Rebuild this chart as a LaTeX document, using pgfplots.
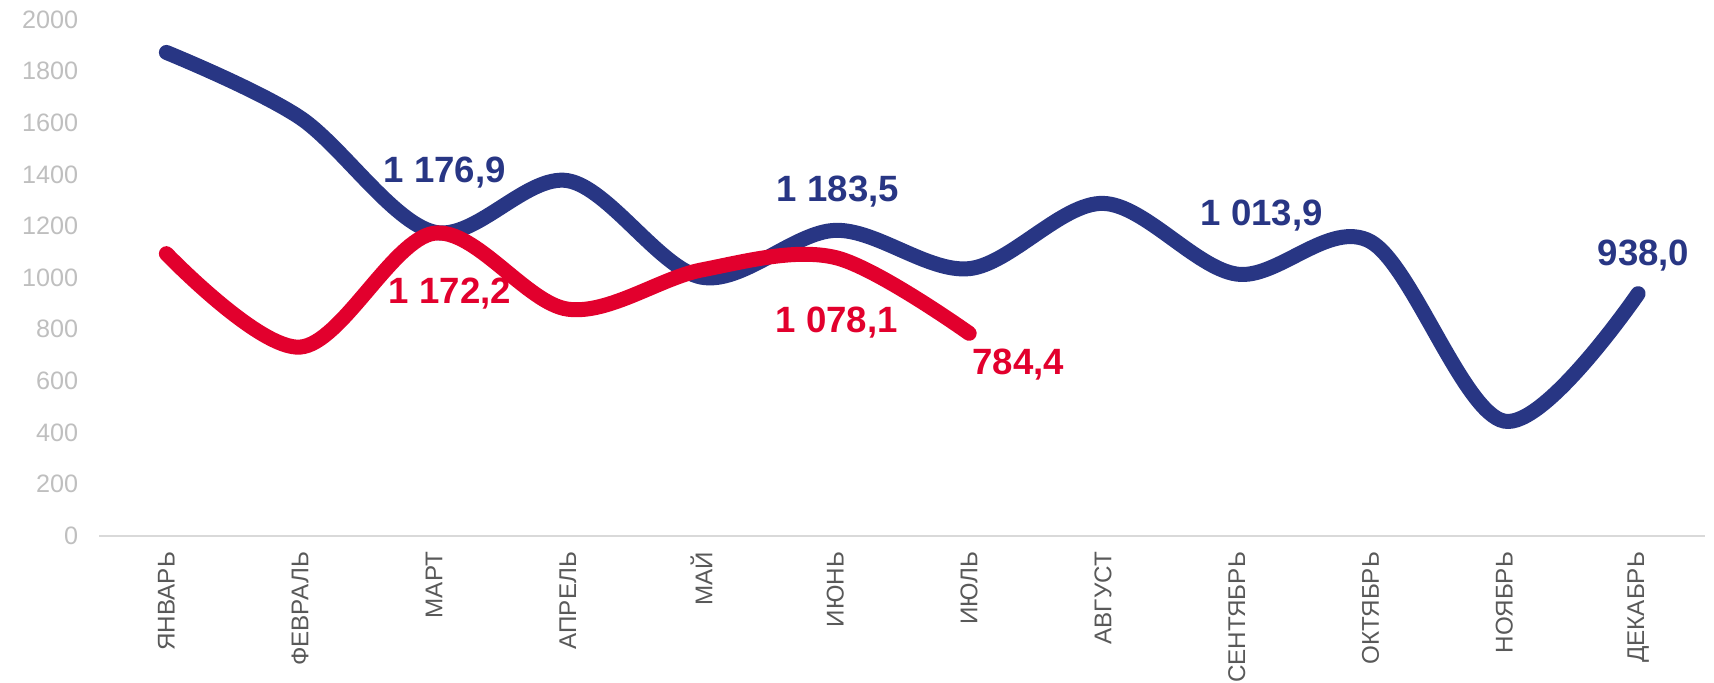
\documentclass[border=0pt]{standalone}
\usepackage{pgfplots}
\pgfplotsset{compat=1.18}
\usepackage{fontspec}
\setmainfont{Liberation Sans}
\definecolor{cblue}{RGB}{40,54,132}
\definecolor{cred}{RGB}{226,0,45}
\definecolor{ylab}{RGB}{191,191,191}
\definecolor{xlab}{RGB}{89,89,89}
\definecolor{axgray}{RGB}{217,217,217}
\begin{document}
\begin{tikzpicture}
\begin{axis}[
  scale only axis,
  width=802.75pt, height=258pt,
  xmin=-0.5, xmax=11.5, ymin=0, ymax=2000,
  axis x line*=bottom, axis y line*=left,
  x axis line style={draw=axgray, line width=1pt, -},
  y axis line style={draw=none},
  major tick length=0pt,
  xtick={0,1,2,3,4,5,6,7,8,9,10,11},
  xticklabels={ЯНВАРЬ,ФЕВРАЛЬ,МАРТ,АПРЕЛЬ,МАЙ,ИЮНЬ,ИЮЛЬ,АВГУСТ,СЕНТЯБРЬ,ОКТЯБРЬ,НОЯБРЬ,ДЕКАБРЬ},
  ytick={0,200,...,2000},
  /pgf/number format/assume math mode=true,
  /pgf/number format/1000 sep={},
  xticklabel style={rotate=90, anchor=east, inner sep=0pt, text=xlab, font=\fontsize{12.1}{14}\selectfont},
  xticklabel shift=8pt,
  yticklabel style={anchor=east, inner sep=0pt, text=ylab, font=\fontsize{12.6}{14}\selectfont},
  yticklabel shift=10.5pt,
  clip=false,
]
\addplot[cblue, line width=7.5pt, line cap=round, smooth, tension=0.55] coordinates {
 (0,1873) (1,1620) (2,1176.9) (3,1376) (4,1002) (5,1183.5) (6,1035) (7,1288) (8,1013.9) (9,1140) (10,444) (11,938.0)};
\addplot[cred, line width=7.5pt, line cap=round, smooth, tension=0.55] coordinates {
 (0,1093) (1,731) (2,1172.2) (3,878) (4,1030) (5,1078.1) (6,784.4)};
\begin{scope}[every node/.style={font=\bfseries\fontsize{18.3}{20}\selectfont, inner sep=0pt}]
\node[text=cblue] at ([shift={(5.3pt,29.7pt)}]axis cs:2,1176.9) {1 176,9};
\node[text=cblue] at ([shift={(1.3pt,19.5pt)}]axis cs:5,1183.5) {1 183,5};
\node[text=cblue] at ([shift={(12.5pt,29.4pt)}]axis cs:8,1013.9) {1 013,9};
\node[text=cblue] at ([shift={(2.7pt,19.3pt)}]axis cs:11,938.0) {938,0};
\node[text=cred] at ([shift={(8pt,-29.9pt)}]axis cs:2,1172.2) {1 172,2};
\node[text=cred] at ([shift={(0.7pt,-32.5pt)}]axis cs:5,1078.1) {1 078,1};
\node[text=cred] at ([shift={(24.6pt,-15.4pt)}]axis cs:6,784.4) {784,4};
\end{scope}
\end{axis}
\pgfresetboundingbox
\path ([shift={(-49.75pt,-73.2pt)}]current axis.south west) rectangle ([shift={(4.5pt,9.85pt)}]current axis.north east);
\end{tikzpicture}
\end{document}
